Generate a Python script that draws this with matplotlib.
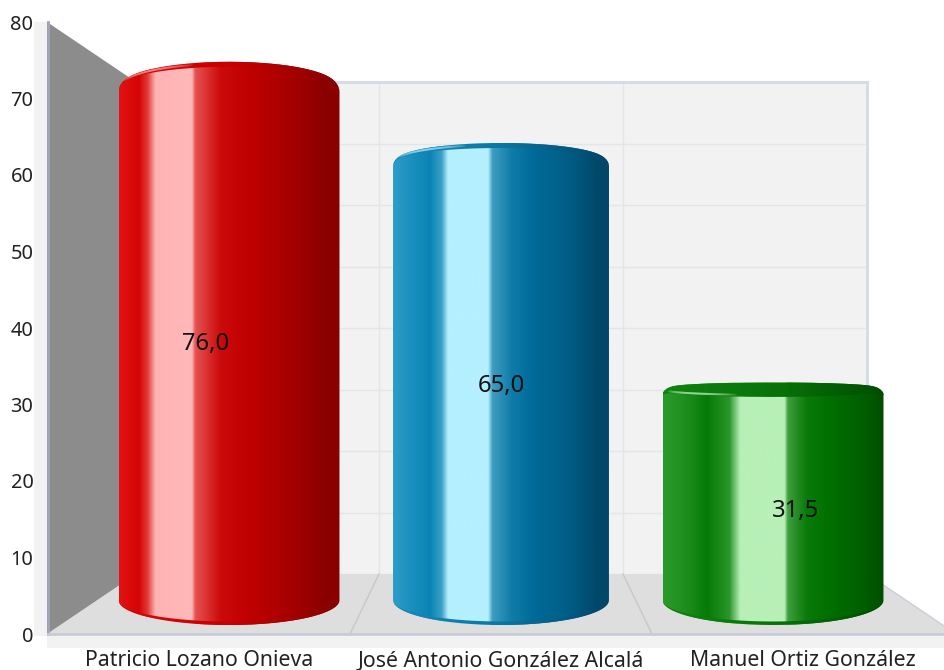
"""Three candidates as glossy 3D-looking cylinders in a grey room."""

import matplotlib
matplotlib.use('Agg')
import matplotlib.collections
import matplotlib.colors
import matplotlib.path
import matplotlib.pyplot
import numpy

names = ['Patricio Lozano Onieva', 'José Antonio González Alcalá',
         'Manuel Ortiz González']
values = [76.0, 65.0, 31.5]
value_labels = ['76,0', '65,0', '31,5']
y_ticks = [0, 10, 20, 30, 40, 50, 60, 70, 80]

WIDTH, HEIGHT = 944, 670
FONT = 'Noto Sans'

# Gradient stops across each cylinder, left to right.
body_stops = [
    [(0, '#e41414'), (.09, '#d40404'), (.13, '#e23c3c'), (.165, '#ffb4b4'),
     (.33, '#ffb8b8'), (.345, '#e65252'), (.46, '#cb0a0a'), (.6, '#bf0000'),
     (.82, '#a00000'), (.93, '#8a0000'), (1, '#8a0000')],
    [(0, '#2e9dc8'), (.08, '#1c90bf'), (.17, '#0a84b5'), (.225, '#3aa0c8'),
     (.255, '#b5f0ff'), (.44, '#b5f0ff'), (.46, '#3f9dc0'), (.55, '#0f7ca8'),
     (.65, '#006a98'), (.8, '#005f88'), (.95, '#00476a'), (1, '#00476a')],
    [(0, '#2a9a2a'), (.1, '#1e8f1e'), (.2, '#057a05'), (.3, '#2a962a'),
     (.35, '#b8f0b8'), (.55, '#b8f0b8'), (.565, '#3e9f3e'), (.65, '#0a7a0a'),
     (.75, '#007000'), (.9, '#006000'), (1, '#004d00')]]
cap_stops = [
    [(0, '#d80808'), (.5, '#c80000'), (1, '#8a0000')],
    [(0, '#1a8ab8'), (.5, '#0a76a3'), (1, '#00476a')],
    [(0, '#0f830f'), (.5, '#087408'), (1, '#004d00')]]
glint_colors = ['#ffb0b0', '#b5f0ff', '#d5f5d5']

bar_widths = [.8125, .794, .8125]
top_ry = [29, 21.5, 6.5]  # Dome height over the rim, pixels.
top_inner_ry = [24, 16.5, -8]
glint_ry = [27, 19.5, -6]
corner_drop = [2, 2, 5]
BOTTOM_RY, BOTTOM_INNER_RY = 25, 21.5
BAR_PX = 6.7  # Pixels per unit at the cylinders' depth.
label_offsets = [(-23.5, 1), (0, -4), (22.5, -16.5)]


def add_axes(figure, left, right, bottom, top):
    """Axes placed by pixel edges, y counted from the top of the image."""
    return figure.add_axes((
        left / WIDTH, 1 - bottom / HEIGHT,
        (right - left) / WIDTH, (bottom - top) / HEIGHT))


def gradient(stops):
    xs, colors = zip(*stops)
    rgb = numpy.array([matplotlib.colors.to_rgb(c) for c in colors])
    grid = numpy.linspace(0, 1, 600)
    return numpy.stack(
        [numpy.interp(grid, xs, rgb[:, k]) for k in range(3)], axis=1)[None]


def fill_gradient(axes, stops, xy, left, right):
    image = axes.imshow(
        gradient(stops), extent=(left, right, -10, 90), aspect='auto',
        interpolation='bilinear', zorder=2)
    image.set_clip_path(matplotlib.path.Path(xy), axes.transData)


def arc(center, rx, y, ry, start, stop, power=1, drop=0):
    theta = numpy.linspace(start, stop, 120)
    sin = numpy.clip(numpy.abs(numpy.sin(theta)), 0, 1) ** power
    sign = numpy.sign(numpy.sin(theta))
    return numpy.column_stack((
        center + rx * numpy.cos(theta),
        y + ry * sign * sin - drop * numpy.abs(numpy.cos(theta)) ** 24))


def draw_cylinder(axes, i):
    rx = bar_widths[i] / 2
    left, right = i - rx, i + rx
    v = values[i]
    drop = corner_drop[i] / BAR_PX
    top = arc(i, rx, v, top_ry[i] / BAR_PX, numpy.pi, 0, .85, drop)
    bottom = arc(i, rx, 0, BOTTOM_RY / BAR_PX, 0, -numpy.pi)
    fill_gradient(
        axes, body_stops[i], numpy.vstack((top, bottom)), left, right)

    inner = arc(i, rx, v, top_inner_ry[i] / BAR_PX, 0, numpy.pi, .85, drop)
    fill_gradient(axes, cap_stops[i], numpy.vstack((top, inner)), left, right)
    inner = arc(i, rx, 0, BOTTOM_INNER_RY / BAR_PX, -numpy.pi, 0)
    fill_gradient(
        axes, cap_stops[i], numpy.vstack((bottom, inner)), left, right)

    # Small bright rim on the upper left, fading out along the arc.
    glint = arc(i, rx, v, glint_ry[i] / BAR_PX,
                numpy.pi - .3, numpy.pi - 1.25, .85)
    segments = numpy.stack((glint[:-1], glint[1:]), axis=1)
    rgb = matplotlib.colors.to_rgb(glint_colors[i])
    alphas = .9 * numpy.sin(numpy.linspace(0, numpy.pi, len(segments))) ** .7
    axes.add_collection(matplotlib.collections.LineCollection(
        segments, colors=[(*rgb, a) for a in alphas], linewidths=1.4,
        zorder=3))


def main():
    figure = matplotlib.pyplot.figure(
        figsize=(WIDTH / 100, HEIGHT / 100), dpi=100, facecolor='white')

    # Back wall: grid every ten units and a line per category boundary.
    back = add_axes(figure, 135, 867, 574, 82)
    back.set_facecolor('#f2f2f2')
    back.set_xlim(0, 3)
    back.set_ylim(0, 80)
    back.set_xticks([1, 2])
    back.set_yticks(y_ticks)
    back.tick_params(length=0, labelleft=False, labelbottom=False)
    back.grid(True, color='#e3e5e9', lw=1)
    back.set_axisbelow(True)
    for side, spine in back.spines.items():
        spine.set_visible(side in ('top', 'right'))
        spine.set_color('#d4dae6')
        spine.set_linewidth(2)

    # Floor, side wall and the pale strips round the front, in pixels.
    room = add_axes(figure, 0, WIDTH, HEIGHT, 0)
    room.set_xlim(0, WIDTH)
    room.set_ylim(HEIGHT, 0)
    room.axis('off')
    room.fill([34, 47, 47, 34], [22, 22, 636, 636], color='#f2f2f2', lw=0)
    room.fill([47, WIDTH, WIDTH, 47], [634, 634, 648, 648],
              color='#f2f2f2', lw=0)
    room.fill([47, 136, 867, 956], [634, 574, 574, 634],
              color='#dedede', lw=0)
    room.fill([47, 136, 136, 47], [22, 82, 574, 634],
              color='#8c8c8c', lw=0)
    room.plot([867, 956], [574, 634], color='#c9ced9', lw=1)
    room.plot([350, 379], [634, 574], color='#c8c8c8', lw=1)
    room.plot([652, 623], [634, 574], color='#c8c8c8', lw=1)

    # Front plane carries the value axis and the names.
    front = add_axes(figure, 48, 954, 634, 22)
    front.patch.set_visible(False)
    front.set_xlim(0, 3)
    front.set_ylim(0, 80)
    front.set_yticks(y_ticks)
    front.set_xticks([.5, 1.5, 2.5], names)
    front.tick_params(length=0, labelcolor='#222222')
    front.tick_params(axis='x', pad=11.5, labelsize=15.3)
    front.tick_params(axis='y', pad=10.5, labelsize=14.4)
    for label in front.get_xticklabels() + front.get_yticklabels():
        label.set_fontfamily(FONT)
    for side, spine in front.spines.items():
        spine.set_visible(side in ('left', 'bottom'))
        spine.set_linewidth(2)
    front.spines['left'].set_color('#a0a8b8')
    front.spines['bottom'].set_color('#c6cbd6')

    # Cylinders stand nearer than the back wall, so they get a scale of
    # their own: zero at y=600 px.
    bars = add_axes(figure, 93, 909, 600 + 6 * BAR_PX, 600 - 84 * BAR_PX)
    bars.patch.set_visible(False)
    bars.axis('off')
    for i in range(len(values)):
        draw_cylinder(bars, i)
        bars.annotate(
            value_labels[i], (i, values[i] / 2),
            xytext=label_offsets[i], textcoords='offset pixels',
            ha='center', va='center', family=FONT, fontsize=17.2,
            color='#111111', zorder=5)
    bars.set_xlim(-.5, 2.5)
    bars.set_ylim(-6, 84)

    figure.savefig('out.png', dpi=100)
    matplotlib.pyplot.close(figure)


main()
